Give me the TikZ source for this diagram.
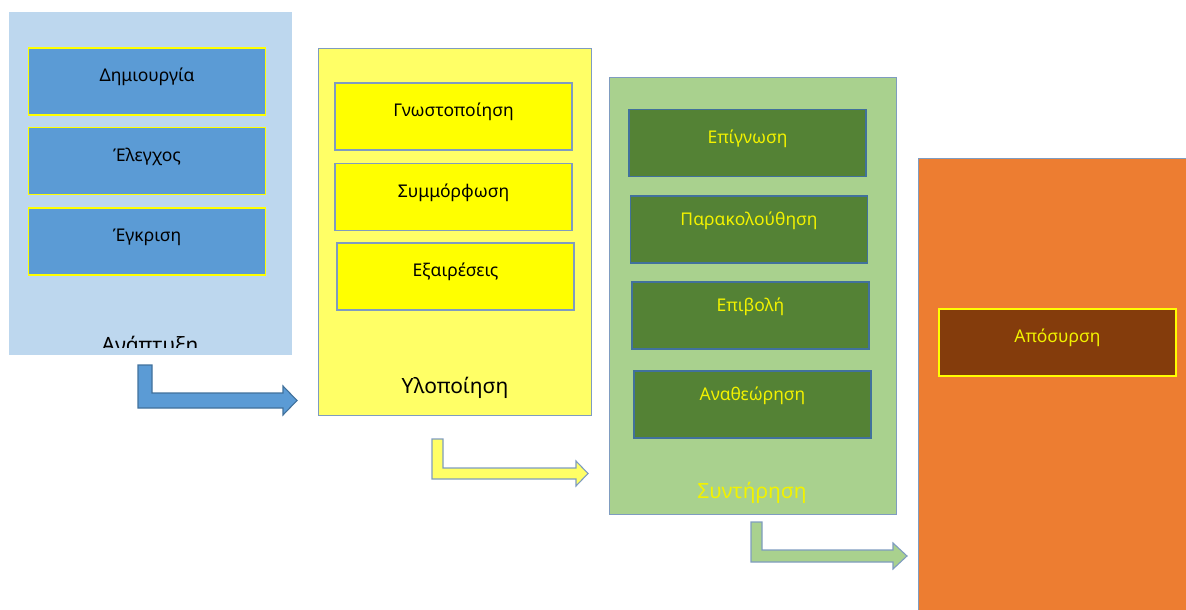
\documentclass[tikz,border=0pt]{standalone}
\usepackage{fontspec}
\setmainfont{Noto Sans}
\definecolor{cDev}{HTML}{BDD7EE}
\definecolor{cDevBox}{HTML}{5B9BD5}
\definecolor{cImp}{HTML}{FFFF66}
\definecolor{cImpBox}{HTML}{FFFF00}
\definecolor{cMnt}{HTML}{A9D18E}
\definecolor{cMntBox}{HTML}{548235}
\definecolor{cRet}{HTML}{ED7D31}
\definecolor{cRetBox}{HTML}{843C0C}
\definecolor{cEdge}{HTML}{7F9CC0}
\definecolor{cEdgeDk}{HTML}{41719C}
\definecolor{cYel}{HTML}{F2F200}
\begin{document}
\begin{tikzpicture}[x=1pt,y=-1pt,font=\fontsize{17.5}{20}\selectfont,
  stage/.style 2 args={rectangle,draw=#2,fill=#1,line width=1pt,inner sep=0pt},
  task/.style 2 args={rectangle,draw=#2,fill=#1,line width=1.3pt,inner sep=0pt,
    minimum width=237pt,minimum height=67pt,text height=12pt,text depth=12pt},
  bend/.style 2 args={fill=#1,draw=#2,line width=1.1pt,line join=miter},
  title/.style={anchor=base,font=\fontsize{21}{24}\selectfont}]
\useasboundingbox (0,0) rectangle (1186,610);
% stage panels
\node[stage={cDev}{cDev},minimum width=282pt,minimum height=341pt] (dev) at (150,183.5) {};
\node[stage={cImp}{cEdge},minimum width=273pt,minimum height=366pt] (imp) at (454.5,232) {};
\node[stage={cMnt}{cEdge},minimum width=287pt,minimum height=436pt] (mnt) at (752.5,296) {};
\node[stage={cRet}{cEdge},minimum width=277pt,minimum height=462pt] (ret) at (1056.5,389) {};
% development
\foreach \n/\t/\yy in {d1/Δημιουργία/81.5,d2/Έλεγχος/161,d3/Έγκριση/241.5}{
  \node[task={cDevBox}{cImpBox}] (\n) at (147,\yy) {\t};}
\begin{scope}
\clip (9,13) rectangle (291,347);
\node[title] (devlbl) at (150,352) {Ανάπτυξη};
\end{scope}
% implementation
\foreach \n/\t/\xx/\yy in {i1/Γνωστοποίηση/453.5/116.5,i2/Συμμόρφωση/453.5/197,i3/Εξαιρέσεις/455.5/276.5}{
  \node[task={cImpBox}{cEdge}] (\n) at (\xx,\yy) {\t};}
\node[title] (implbl) at (455,393) {Υλοποίηση};
% maintenance (lower three carry their text a little higher)
\foreach \n/\t/\xx/\yy/\tdep in {m1/Επίγνωση/747.5/143/12,m2/Παρακολούθηση/749/229.5/21,
    m3/Επιβολή/750.5/315.5/21,m4/Αναθεώρηση/752.5/404.5/21}{
  \node[task={cMntBox}{cEdgeDk},text=cYel,text depth=\tdep pt] (\n) at (\xx,\yy) {\t};}
\node[title,text=cYel] (mntlbl) at (752,498) {Συντήρηση};
% retirement
\node[task={cRetBox}{cImpBox},text=cYel] (r1) at (1057.5,342.5) {Απόσυρση};
% bent arrows between stages
\filldraw[bend={cDevBox}{cEdgeDk}] (138,365) -- (152,365) -- (152,393) -- (283,393) -- (283,386)
  -- (297,400.5) -- (283,415) -- (283,408) -- (138,408) -- cycle;
\filldraw[bend={cImp}{cEdge}] (432,439) -- (443,439) -- (443,468) -- (576,468) -- (576,461)
  -- (588,473.5) -- (576,486) -- (576,479) -- (432,479) -- cycle;
\filldraw[bend={cMnt}{cEdge}] (751,522) -- (762,522) -- (762,550) -- (893,550) -- (893,543)
  -- (907,556) -- (893,569) -- (893,562) -- (751,562) -- cycle;
\end{tikzpicture}
\end{document}
